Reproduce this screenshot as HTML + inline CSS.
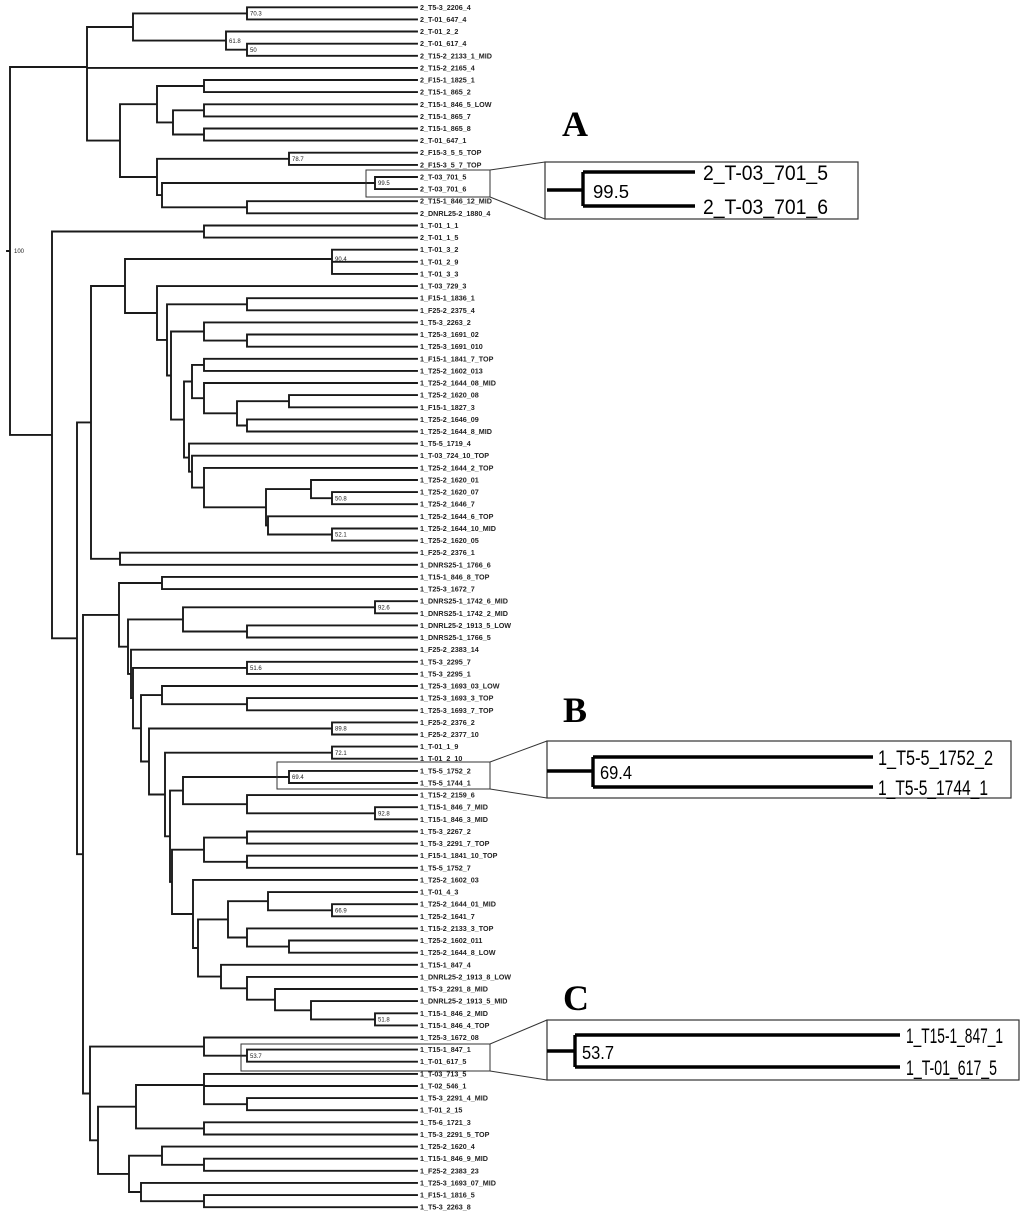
<!DOCTYPE html>
<html><head><meta charset="utf-8"><style>
html,body{margin:0;padding:0;background:#fff}
svg{display:block}
.l{font-family:"Liberation Sans",sans-serif;font-size:7.2px;font-weight:bold;fill:#222}
.s{font-family:"Liberation Sans",sans-serif;font-size:6px;fill:#222}
.b{font-family:"Liberation Sans",sans-serif;font-size:21px;fill:#000}
.bn{font-family:"Liberation Sans",sans-serif;font-size:18px;fill:#000}
.L{font-family:"Liberation Serif",serif;font-size:36px;font-weight:bold;fill:#000}
</style></head><body>
<svg width="1024" height="1220" viewBox="0 0 1024 1220" xmlns="http://www.w3.org/2000/svg">
<g fill="none" stroke="#1a1a1a" stroke-width="1.9" stroke-linecap="square">
<path d="
M247 7.3H417M247 19.4H417M226 31.5H417M247 43.7H417M247 55.8H417M87 67.9H417
M204 80H417M204 92.1H417M204 104.3H417M204 116.4H417M204 128.5H417M204 140.6H417
M289 152.7H417M289 164.9H417M375 177H417M375 189.1H417M247 201.2H417M247 213.3H417
M204 225.5H417M204 237.6H417M332 249.7H417M332 261.8H417M332 273.9H417M157 286.1H417
M247 298.2H417M247 310.3H417M204 322.4H417M247 334.5H417M247 346.7H417M204 358.8H417
M204 370.9H417M204 383H417M289 395.1H417M289 407.3H417M247 419.4H417M247 431.5H417
M189 443.6H417M192 455.7H417M204 467.9H417M311 480H417M332 492.1H417M332 504.2H417
M268 516.3H417M332 528.5H417M332 540.6H417M120 552.7H417M120 564.8H417M162 576.9H417
M162 589.1H417M375 601.2H417M375 613.3H417M247 625.4H417M247 637.5H417M131 649.7H417
M247 661.8H417M247 673.9H417M162 686H417M247 698.1H417M247 710.3H417M332 722.4H417
M332 734.5H417M332 746.6H417M332 758.7H417M289 770.9H417M289 783H417M247 795.1H417
M375 807.2H417M375 819.3H417M247 831.5H417M247 843.6H417M247 855.7H417M247 867.8H417
M193 879.9H417M268 892.1H417M332 904.2H417M332 916.3H417M247 928.4H417M289 940.5H417
M289 952.7H417M221 964.8H417M247 976.9H417M275 989H417M311 1001.1H417M375 1013.3H417
M375 1025.4H417M204 1037.5H417M247 1049.6H417M247 1061.7H417M204 1073.9H417M204 1086H417
M247 1098.1H417M247 1110.2H417M204 1122.3H417M204 1134.5H417M162 1146.6H417M204 1158.7H417
M204 1170.8H417M141 1182.9H417M204 1195.1H417M204 1207.2H417
M247 7.3V19.4M133 13.4H247
M247 43.7V55.8M226 49.7H247
M226 31.5V49.7M133 40.6H226
M133 13.4V40.6M87 27H133
M204 80V92.1M157 86H204
M204 104.3V116.4M173 110.3H204
M204 128.5V140.6M173 134.5H204
M173 110.3V134.5M157 122.4H173
M157 86V122.4M120 104.2H157
M289 152.7V164.9M157 158.8H289
M375 177V189.1M162 183H375
M247 201.2V213.3M162 207.3H247
M162 183V207.3M157 195.1H162
M157 158.8V195.1M120 177H157
M120 104.2V177M87 140.6H120
M87 27V140.6M10 67H87
M10 67V434.9
M7 251H10
M52 231.5V638.3M10 434.9H52
M204 225.5V237.6M52 231.5H204
M332 249.7V273.9M125 259H332
M247 298.2V310.3M167 304.3H247
M247 334.5V346.7M204 340.6H247
M204 322.4V340.6M171 331.5H204
M204 358.8V370.9M192 364.9H204
M289 395.1V407.3M237 401.2H289
M247 419.4V431.5M237 425.5H247
M237 401.2V425.5M204 413.3H237
M204 383V413.3M192 398.2H204
M192 364.9V398.2M184 381.5H192
M332 492.1V504.2M311 498.2H332
M311 480V498.2M266 489.1H311
M332 528.5V540.6M268 534.5H332
M268 516.3V534.5M266 525.4H268
M266 489.1V525.4M204 507.3H266
M204 467.9V507.3M192 487.6H204
M192 455.7V487.6M189 471.7H192
M189 443.6V471.7M184 457.6H189
M184 381.5V457.6M171 419.6H184
M171 331.5V419.6M167 375.5H171
M167 304.3V375.5M157 339.9H167
M157 286.1V339.9M125 313H157
M125 259V313M91 286H125
M120 552.7V564.8M91 558.8H120
M91 286V558.8M77 422.4H91
M162 576.9V589.1M119 583H162
M375 601.2V613.3M183 607.3H375
M247 625.4V637.5M183 631.5H247
M183 607.3V631.5M128 619.4H183
M247 661.8V673.9M133 667.9H247
M247 698.1V710.3M162 704.2H247
M162 686V704.2M141 695.1H162
M332 722.4V734.5M149 728.5H332
M332 746.6V758.7M165 752.7H332
M289 770.9V783M183 777H289
M375 807.2V819.3M247 813.3H375
M247 795.1V813.3M183 804.2H247
M183 777V804.2M170 790.6H183
M247 831.5V843.6M204 837.6H247
M247 855.7V867.8M204 861.8H247
M204 837.6V861.8M172 849.7H204
M332 904.2V916.3M268 910.3H332
M268 892.1V910.3M228 901.2H268
M289 940.5V952.7M247 946.6H289
M247 928.4V946.6M228 937.5H247
M228 901.2V937.5M198 919.4H228
M375 1013.3V1025.4M311 1019.4H375
M311 1001.1V1019.4M275 1010.3H311
M275 989V1010.3M247 999.7H275
M247 976.9V999.7M221 988.3H247
M221 964.8V988.3M198 976.6H221
M198 919.4V976.6M193 948H198
M193 879.9V948M172 914H193
M172 849.7V914M170 881.9H172
M170 790.6V881.9M165 836.3H170
M165 752.7V836.3M149 794.5H165
M149 728.5V794.5M141 761.5H149
M141 695.1V761.5M133 728.3H141
M133 667.9V728.3M131 698.1H133
M131 649.7V698.1M128 673.9H131
M128 619.4V673.9M119 646.7H128
M119 583V646.7M83 614.9H119
M247 1049.6V1061.7M204 1055.7H247
M204 1037.5V1055.7M90 1046.6H204
M247 1098.1V1110.2M204 1104.2H247
M204 1073.9V1104.2M136 1085H204
M204 1122.3V1134.5M136 1128.4H204
M136 1085V1128.4M98 1106.7H136
M204 1158.7V1170.8M162 1164.8H204
M162 1146.6V1164.8M129 1155.7H162
M204 1195.1V1207.2M141 1201.2H204
M141 1182.9V1201.2M129 1192H141
M129 1155.7V1192M98 1173.9H129
M98 1106.7V1173.9M90 1140.3H98
M90 1046.6V1140.3M83 1093.5H90
M83 614.9V1093.5M77 854.2H83
M77 422.4V854.2M52 638.3H77
"/>
</g>
<g fill="none" stroke="#333" stroke-width="1">
<rect x="366" y="170" width="124" height="27"/>
<rect x="277" y="762" width="213" height="27"/>
<rect x="241" y="1044" width="249" height="27"/>
<path d="M490 170L545 162M490 197L545 219M490 762L547 741M490 789L547 798M490 1044L547 1020M490 1071L547 1080"/>
<rect x="545" y="162" width="313" height="57" stroke-width="1.2"/>
<rect x="547" y="741" width="464" height="57" stroke-width="1.2"/>
<rect x="547" y="1020" width="472" height="60" stroke-width="1.2"/>
</g>
<g fill="none" stroke="#000" stroke-width="3.4">
<path d="M547 190H583M583 172V206M583 172H695M583 206H695"/>
<path d="M547 771H593M593 757V787M593 757H873M593 787H873"/>
<path d="M547 1051H575M575 1035V1067M575 1035H900M575 1067H900"/>
</g>
<text class="L" x="562" y="136">A</text>
<text class="L" x="563" y="722">B</text>
<text class="L" x="563" y="1010">C</text>
<text class="b" x="703" y="180" textLength="125" lengthAdjust="spacingAndGlyphs">2_T-03_701_5</text>
<text class="b" x="703" y="214" textLength="125" lengthAdjust="spacingAndGlyphs">2_T-03_701_6</text>
<text class="bn" x="593" y="198" textLength="36" lengthAdjust="spacingAndGlyphs">99.5</text>
<text class="b" x="878" y="765" textLength="115" lengthAdjust="spacingAndGlyphs">1_T5-5_1752_2</text>
<text class="b" x="878" y="795" textLength="110" lengthAdjust="spacingAndGlyphs">1_T5-5_1744_1</text>
<text class="bn" x="600" y="779" textLength="32" lengthAdjust="spacingAndGlyphs">69.4</text>
<text class="b" x="906" y="1043" textLength="97" lengthAdjust="spacingAndGlyphs">1_T15-1_847_1</text>
<text class="b" x="906" y="1075" textLength="91" lengthAdjust="spacingAndGlyphs">1_T-01_617_5</text>
<text class="bn" x="582" y="1059" textLength="32" lengthAdjust="spacingAndGlyphs">53.7</text>
<g class="s">
<text x="250" y="15.6">70.3</text><text x="229" y="42.8">61.8</text><text x="250" y="51.9">50</text>
<text x="292" y="161">78.7</text><text x="378" y="185.2">99.5</text><text x="14" y="253.2">100</text>
<text x="335" y="261.2">90.4</text><text x="335" y="500.4">50.8</text><text x="335" y="536.7">52.1</text>
<text x="378" y="609.5">92.6</text><text x="250" y="670.1">51.6</text><text x="335" y="730.7">89.8</text>
<text x="335" y="754.9">72.1</text><text x="292" y="779.2">69.4</text><text x="378" y="815.5">92.8</text>
<text x="335" y="912.5">66.9</text><text x="378" y="1021.6">51.8</text><text x="250" y="1057.9">53.7</text>
</g>
<g class="l">
<text x="420" y="9.8">2_T5-3_2206_4</text>
<text x="420" y="21.9">2_T-01_647_4</text>
<text x="420" y="34">2_T-01_2_2</text>
<text x="420" y="46.2">2_T-01_617_4</text>
<text x="420" y="58.3">2_T15-2_2133_1_MID</text>
<text x="420" y="70.4">2_T15-2_2165_4</text>
<text x="420" y="82.5">2_F15-1_1825_1</text>
<text x="420" y="94.6">2_T15-1_865_2</text>
<text x="420" y="106.8">2_T15-1_846_5_LOW</text>
<text x="420" y="118.9">2_T15-1_865_7</text>
<text x="420" y="131">2_T15-1_865_8</text>
<text x="420" y="143.1">2_T-01_647_1</text>
<text x="420" y="155.2">2_F15-3_5_5_TOP</text>
<text x="420" y="167.4">2_F15-3_5_7_TOP</text>
<text x="420" y="179.5">2_T-03_701_5</text>
<text x="420" y="191.6">2_T-03_701_6</text>
<text x="420" y="203.7">2_T15-1_846_12_MID</text>
<text x="420" y="215.8">2_DNRL25-2_1880_4</text>
<text x="420" y="228">1_T-01_1_1</text>
<text x="420" y="240.1">2_T-01_1_5</text>
<text x="420" y="252.2">1_T-01_3_2</text>
<text x="420" y="264.3">1_T-01_2_9</text>
<text x="420" y="276.4">1_T-01_3_3</text>
<text x="420" y="288.6">1_T-03_729_3</text>
<text x="420" y="300.7">1_F15-1_1836_1</text>
<text x="420" y="312.8">1_F25-2_2375_4</text>
<text x="420" y="324.9">1_T5-3_2263_2</text>
<text x="420" y="337">1_T25-3_1691_02</text>
<text x="420" y="349.2">1_T25-3_1691_010</text>
<text x="420" y="361.3">1_F15-1_1841_7_TOP</text>
<text x="420" y="373.4">1_T25-2_1602_013</text>
<text x="420" y="385.5">1_T25-2_1644_08_MID</text>
<text x="420" y="397.6">1_T25-2_1620_08</text>
<text x="420" y="409.8">1_F15-1_1827_3</text>
<text x="420" y="421.9">1_T25-2_1646_09</text>
<text x="420" y="434">1_T25-2_1644_8_MID</text>
<text x="420" y="446.1">1_T5-5_1719_4</text>
<text x="420" y="458.2">1_T-03_724_10_TOP</text>
<text x="420" y="470.4">1_T25-2_1644_2_TOP</text>
<text x="420" y="482.5">1_T25-2_1620_01</text>
<text x="420" y="494.6">1_T25-2_1620_07</text>
<text x="420" y="506.7">1_T25-2_1646_7</text>
<text x="420" y="518.8">1_T25-2_1644_6_TOP</text>
<text x="420" y="531">1_T25-2_1644_10_MID</text>
<text x="420" y="543.1">1_T25-2_1620_05</text>
<text x="420" y="555.2">1_F25-2_2376_1</text>
<text x="420" y="567.3">1_DNRS25-1_1766_6</text>
<text x="420" y="579.4">1_T15-1_846_8_TOP</text>
<text x="420" y="591.6">1_T25-3_1672_7</text>
<text x="420" y="603.7">1_DNRS25-1_1742_6_MID</text>
<text x="420" y="615.8">1_DNRS25-1_1742_2_MID</text>
<text x="420" y="627.9">1_DNRL25-2_1913_5_LOW</text>
<text x="420" y="640">1_DNRS25-1_1766_5</text>
<text x="420" y="652.2">1_F25-2_2383_14</text>
<text x="420" y="664.3">1_T5-3_2295_7</text>
<text x="420" y="676.4">1_T5-3_2295_1</text>
<text x="420" y="688.5">1_T25-3_1693_03_LOW</text>
<text x="420" y="700.6">1_T25-3_1693_3_TOP</text>
<text x="420" y="712.8">1_T25-3_1693_7_TOP</text>
<text x="420" y="724.9">1_F25-2_2376_2</text>
<text x="420" y="737">1_F25-2_2377_10</text>
<text x="420" y="749.1">1_T-01_1_9</text>
<text x="420" y="761.2">1_T-01_2_10</text>
<text x="420" y="773.4">1_T5-5_1752_2</text>
<text x="420" y="785.5">1_T5-5_1744_1</text>
<text x="420" y="797.6">1_T15-2_2159_6</text>
<text x="420" y="809.7">1_T15-1_846_7_MID</text>
<text x="420" y="821.8">1_T15-1_846_3_MID</text>
<text x="420" y="834">1_T5-3_2267_2</text>
<text x="420" y="846.1">1_T5-3_2291_7_TOP</text>
<text x="420" y="858.2">1_F15-1_1841_10_TOP</text>
<text x="420" y="870.3">1_T5-5_1752_7</text>
<text x="420" y="882.4">1_T25-2_1602_03</text>
<text x="420" y="894.6">1_T-01_4_3</text>
<text x="420" y="906.7">1_T25-2_1644_01_MID</text>
<text x="420" y="918.8">1_T25-2_1641_7</text>
<text x="420" y="930.9">1_T15-2_2133_3_TOP</text>
<text x="420" y="943">1_T25-2_1602_011</text>
<text x="420" y="955.2">1_T25-2_1644_8_LOW</text>
<text x="420" y="967.3">1_T15-1_847_4</text>
<text x="420" y="979.4">1_DNRL25-2_1913_8_LOW</text>
<text x="420" y="991.5">1_T5-3_2291_8_MID</text>
<text x="420" y="1003.6">1_DNRL25-2_1913_5_MID</text>
<text x="420" y="1015.8">1_T15-1_846_2_MID</text>
<text x="420" y="1027.9">1_T15-1_846_4_TOP</text>
<text x="420" y="1040">1_T25-3_1672_08</text>
<text x="420" y="1052.1">1_T15-1_847_1</text>
<text x="420" y="1064.2">1_T-01_617_5</text>
<text x="420" y="1076.4">1_T-03_713_5</text>
<text x="420" y="1088.5">1_T-02_546_1</text>
<text x="420" y="1100.6">1_T5-3_2291_4_MID</text>
<text x="420" y="1112.7">1_T-01_2_15</text>
<text x="420" y="1124.8">1_T5-6_1721_3</text>
<text x="420" y="1137">1_T5-3_2291_5_TOP</text>
<text x="420" y="1149.1">1_T25-2_1620_4</text>
<text x="420" y="1161.2">1_T15-1_846_9_MID</text>
<text x="420" y="1173.3">1_F25-2_2383_23</text>
<text x="420" y="1185.4">1_T25-3_1693_07_MID</text>
<text x="420" y="1197.6">1_F15-1_1816_5</text>
<text x="420" y="1209.7">1_T5-3_2263_8</text>
</g>
</svg>
</body></html>
